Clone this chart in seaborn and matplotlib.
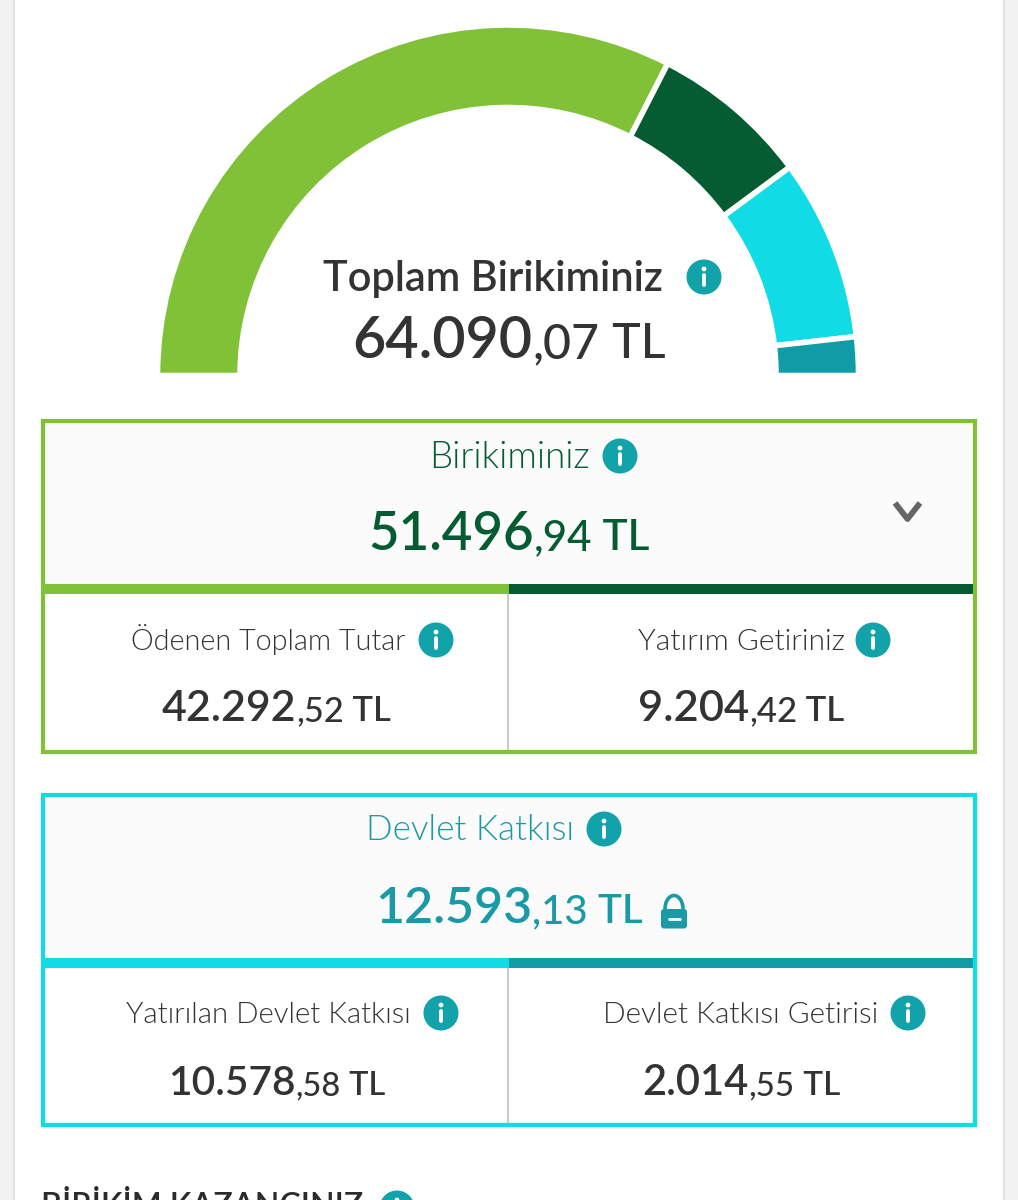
import matplotlib
matplotlib.use("Agg")
import matplotlib.pyplot as plt
from matplotlib.patches import Arc, Circle, FancyBboxPatch, Rectangle
import seaborn as sns

# Donnees lues sur la capture (parts de la jauge estimees sur les angles)
segment_values = [41700, 9400, 10720, 2270]
total_label = "Toplam Birikiminiz"
total_parts = ["64.090", ",07", " TL"]
group_labels = ["Birikiminiz", "Devlet Katkısı"]
group_parts = [["51.496", ",94", " TL"], ["12.593", ",13", " TL"]]
detail_labels = ["Ödenen Toplam Tutar", "Yatırım Getiriniz",
                 "Yatırılan Devlet Katkısı", "Devlet Katkısı Getirisi"]
detail_parts = [["42.292", ",52", " TL"], ["9.204", ",42", " TL"],
                ["10.578", ",58", " TL"], ["2.014", ",55", " TL"]]
footer_label = "BİRİKİM KAZANCINIZ"

sns.set_theme(style="white")
plt.rcParams['font.family'] = ['Lato', 'DejaVu Sans']
palette = sns.color_palette(["#80c138", "#055c33", "#11dce6", "#0f9ca6"])
GREEN, DARK, CYAN, TEAL = palette
TEXT = "#333333"
TEAL_TEXT = "#1a9aa5"
ICON = "#12a2a9"

fig = plt.figure(figsize=(10.18, 12), dpi=100, facecolor="white")
ax = fig.add_axes([0, 0, 1, 1])
renderer = fig.canvas.get_renderer()

# Jauge en demi-cercle (y inverse, donc sens direct)
total = sum(segment_values)
ax.pie([v / (2 * total) for v in segment_values], colors=palette, normalize=False,
       center=(508, 375.5), radius=350.5, startangle=180, counterclock=True,
       wedgeprops=dict(width=82.5, edgecolor="white", linewidth=4))
ax.set_xlim(0, 1018)
ax.set_ylim(1200, 0)
ax.set_aspect("auto")
ax.axis("off")


def fit_text(txt, left, right, baseline, color, weight=400):
    t = ax.text(left, baseline, txt, color=color, fontweight=weight, fontsize=20, va="baseline", ha="left")
    w = t.get_window_extent(renderer).width
    t.set_fontsize(20 * (right - left) / w)
    return t


def money(parts, left, right, baseline, color, weight=600, ratio=0.8, tl_weight=None):
    # montant en trois morceaux : entier, decimales, TL
    sizes = [20, 20 * ratio, 20 * ratio]
    weights = [weight, 500, tl_weight or weight]
    objs = [ax.text(0, baseline, p, color=color, fontsize=s, fontweight=wt, va="baseline")
            for p, s, wt in zip(parts, sizes, weights)]
    widths = [o.get_window_extent(renderer).width for o in objs]
    scale = (right - left) / sum(widths)
    x = left
    for o, s, w in zip(objs, sizes, widths):
        o.set_fontsize(s * scale)
        o.set_x(x)
        x += w * scale


def info(x, y, r=17.5):
    ax.add_patch(Circle((x, y), r, color=ICON, lw=0, zorder=3))
    ax.add_patch(Circle((x, y - 8), 2.4, color="white", lw=0, zorder=4))
    ax.plot([x, x], [y - 2, y + 8], color="white", lw=2.8, solid_capstyle="round", zorder=4)


def panel(top, bottom, bar_top, col_a, col_b, frame):
    ax.add_patch(Rectangle((43, top + 2), 932, bar_top - top - 2, color="#fbfbfb", lw=0))
    ax.plot([508, 508], [bar_top + 10, bottom - 3], color="#cccccc", lw=1.5)
    ax.add_patch(Rectangle((43, bar_top), 466, 10, color=col_a, lw=0, zorder=2))
    ax.add_patch(Rectangle((509, bar_top), 464, 10, color=col_b, lw=0, zorder=2))
    ax.add_patch(Rectangle((43, top + 2), 932, bottom - top - 4, fill=False, edgecolor=frame, lw=3, zorder=3))


# Marges grises de la page
for x0, x1 in [(0, 13), (1004, 1018)]:
    ax.add_patch(Rectangle((x0, 0), x1 - x0, 1200, color="#f2f2f2", lw=0))
ax.plot([14, 14], [0, 1200], color="#e2e2e2", lw=1.5)
ax.plot([1004, 1004], [0, 1200], color="#e2e2e2", lw=1.5)

# Total au centre de la jauge
fit_text(total_label, 323, 664, 291, TEXT, weight=600)
info(704, 277)
money(total_parts, 352, 666, 358, TEXT, weight=600, ratio=0.84, tl_weight=500)

# Panneau Birikiminiz
panel(419, 754, 584, GREEN, DARK, GREEN)
fit_text(group_labels[0], 429, 589, 468, DARK, weight=300)
info(620, 456)
money(group_parts[0], 368, 650, 550, DARK)
ax.plot([895, 907.5, 920], [503, 519, 503], color="#666666", lw=4.2, solid_capstyle="butt")

fit_text(detail_labels[0], 131, 406, 650, TEXT, weight=300)
info(436, 640)
money(detail_parts[0], 162, 391, 721, TEXT)
fit_text(detail_labels[1], 638, 844, 650, TEXT, weight=300)
info(873, 640)
money(detail_parts[1], 638, 845, 721, TEXT)

# Panneau Devlet Katkisi
panel(793, 1127, 958, CYAN, TEAL, CYAN)
fit_text(group_labels[1], 366, 574, 840, TEAL_TEXT, weight=300)
info(604, 829)
money(group_parts[1], 375, 643, 923, TEAL_TEXT)

# Cadenas
ax.add_patch(FancyBboxPatch((661, 909), 26, 19.5, boxstyle="round,pad=0,rounding_size=3", color=TEAL_TEXT, lw=0, zorder=3))
ax.add_patch(Arc((674, 909), 18, 27, theta1=180, theta2=360, color=TEAL_TEXT, lw=2.6, zorder=3))
ax.plot([669, 680], [918.5, 918.5], color="white", lw=2, zorder=4)

fit_text(detail_labels[2], 126, 411, 1023, TEXT, weight=300)
info(441, 1013)
money(detail_parts[2], 168, 385, 1095, TEXT)
fit_text(detail_labels[3], 603, 878, 1023, TEXT, weight=300)
info(908, 1013)
money(detail_parts[3], 642, 840, 1095, TEXT)

# Titre coupe en bas de la capture
fit_text(footer_label, 41, 363, 1216, "#2b2b2b", weight=600)
info(397, 1208)

fig.savefig("out.png", dpi=100, facecolor="white")
